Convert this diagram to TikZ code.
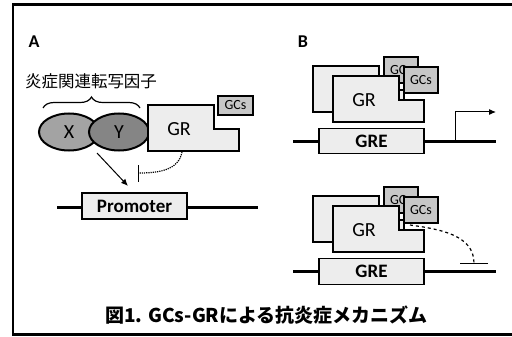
\documentclass[tikz,border=0pt]{standalone}
\usepackage{fontspec}
\setmainfont{Carlito}
\newfontfamily\jpfont{Noto Sans CJK JP}
\usetikzlibrary{positioning, shapes.geometric, decorations.pathreplacing, arrows.meta}

\definecolor{grfill}{gray}{0.93}
\definecolor{gcfill}{gray}{0.78}
\definecolor{xfill}{gray}{0.64}
\definecolor{yfill}{gray}{0.52}

\tikzset{
    grline/.style = {draw, line width=1.5pt, fill=grfill},
    gcbox/.style = {draw, line width=1.5pt, fill=gcfill, inner sep=0pt, minimum width=34pt, minimum height=26pt, font=\fontsize{14}{16}\selectfont},
    sitebox/.style = {draw, line width=1.5pt, fill=grfill, inner sep=0pt, minimum width=105pt, minimum height=25pt, font=\fontsize{19}{22}\selectfont\bfseries},
    factor/.style = {ellipse, draw, line width=2pt, inner sep=0pt, minimum width=60pt, minimum height=37pt, font=\fontsize{20}{24}\selectfont},
    dna/.style = {line width=3pt},
    panel/.style = {font=\fontsize{18}{20}\selectfont\bfseries}
}

% notched receptor, top left corner at (#1, #2)
\newcommand{\receptor}[4]{%
    \draw [grline] (#1, #2) -- ++(66, 0) -- ++(0, 24) -- ++(25, 0) -- ++(0, 22) -- ++(-91, 0) -- cycle;
    \path (#1, #2) ++(31, 24) node [font=\fontsize{20}{24}\selectfont] (#3) {#4};
}

\begin{document}
\begin{tikzpicture}[x=1pt, y=-1pt]
    \useasboundingbox (0, 0) rectangle (512, 337);
    \draw [line width=2.5pt] (512, 4.5) -- (13, 4.5) -- (13, 334.5) -- (512, 334.5);

    \node [panel] (labA) at (34, 42) {A};
    \node [panel] (labB) at (303, 42) {B};

    % panel A
    \node (tflabel) at (91, 81) {\jpfont\fontsize{16.5}{18}\selectfont 炎症関連転写因子};
    \draw [decorate, decoration={brace, amplitude=11pt}, line width=1.2pt] (43, 108) -- (140, 108);

    \node [factor, fill = xfill] (fx) at (69, 132) {X};
    \node [factor, fill = yfill] (fy) at (119, 132) {Y};
    \receptor{148}{105}{grA}{GR}
    \node [gcbox, minimum width=35pt, minimum height=19pt] (gcA) at (235.5, 105.5) {GCs};

    \coordinate (dnaAl) at (57, 207);
    \coordinate (dnaAr) at (258, 207);
    \draw [dna] (dnaAl) -- (dnaAr);
    \node [sitebox, minimum height=26pt] (prom) at (134.5, 206) {Promoter};

    \coordinate (xyfoot) at (97, 153);
    \coordinate (promtop) at (128, 186);
    \draw [line width=1pt, -{Latex[length=7pt, width=6pt]}] (xyfoot) -- (promtop);

    \coordinate (grfoot) at (182, 152);
    \coordinate (blockA) at (138, 173);
    \draw [line width=1.2pt, densely dotted, -{Bar[width=17pt, line width=1.2pt]}] (grfoot) to [out=-100, in=0] (blockA);

    % panel B, active
    \receptor{313}{66}{grBback}{}
    \node [gcbox] (gcBback) at (401, 70) {GCs};
    \receptor{333}{76}{grB}{GR}
    \node [gcbox] (gcB) at (421, 80) {GCs};

    \coordinate (dnaBl) at (293, 141);
    \coordinate (dnaBr) at (496, 141);
    \draw [dna] (dnaBl) -- (dnaBr);
    \node [sitebox] (greB) at (371.5, 141) {GRE};

    \coordinate (tss) at (455, 141);
    \coordinate (tssend) at (496, 112);
    \draw [line width=1pt, -{Latex[length=7pt, width=6pt]}] (tss) |- (tssend);

    % panel B, repressed
    \receptor{313}{196}{grCback}{}
    \node [gcbox] (gcCback) at (401, 200) {GCs};
    \receptor{333}{206}{grC}{GR}
    \node [gcbox] (gcC) at (421, 210) {GCs};

    \coordinate (dnaCl) at (293, 271);
    \coordinate (dnaCr) at (496, 271);
    \draw [dna] (dnaCl) -- (dnaCr);
    \node [sitebox, minimum height=26pt] (greC) at (371.5, 271.5) {GRE};

    \coordinate (gcfoot) at (410, 225);
    \coordinate (blockC) at (474, 264);
    \draw [line width=1.2pt, dashed, -{Bar[width=28pt, line width=1.2pt]}] (gcfoot) to [out=-8, in=90] (blockC);

    \node (caption) at (266.5, 315.5) {\jpfont\fontsize{19}{21}\selectfont\bfseries 図1. GCs-GRによる抗炎症メカニズム};
\end{tikzpicture}
\end{document}
